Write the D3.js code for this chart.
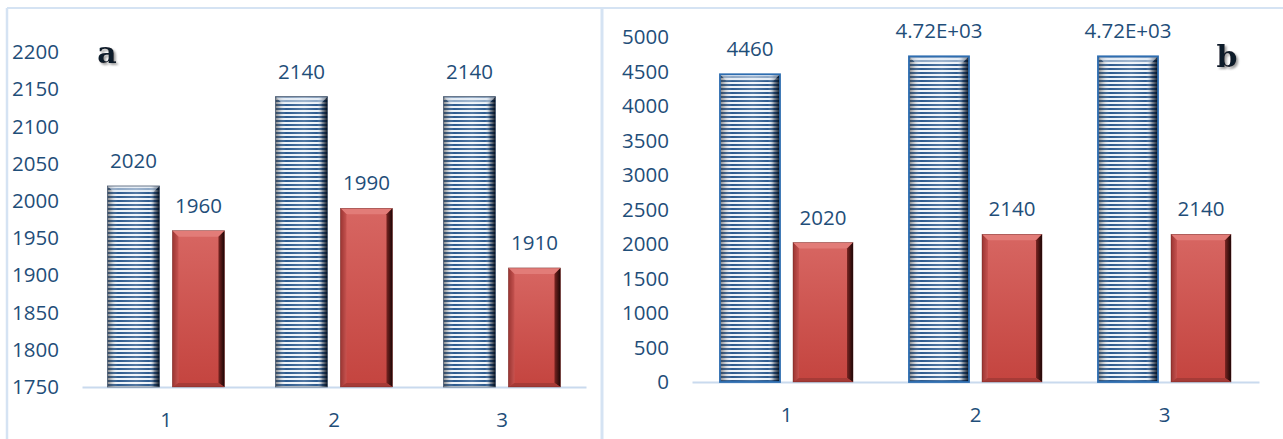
<!DOCTYPE html>
<html><head><meta charset="utf-8">
<script src="https://cdn.jsdelivr.net/npm/d3@7"></script>
<style>
html,body{margin:0;padding:0;background:#fff;}
svg text{font-family:"Open Sans","Noto Sans",sans-serif;}
</style></head>
<body>
<svg id="chart" width="1283" height="439"></svg>
<script>
// ---- data ----
const categories = ["1", "2", "3"];
const aBlue = [2020, 2140, 2140];
const aRed = [1960, 1990, 1910];
const aBlueLabels = ["2020", "2140", "2140"];
const aRedLabels = ["1960", "1990", "1910"];
const aTicks = [1750, 1800, 1850, 1900, 1950, 2000, 2050, 2100, 2150, 2200];
const bBlue = [4460, 4720, 4720];
const bRed = [2020, 2140, 2140];
const bBlueLabels = ["4460", "4.72E+03", "4.72E+03"];
const bRedLabels = ["2020", "2140", "2140"];
const bTicks = [0, 500, 1000, 1500, 2000, 2500, 3000, 3500, 4000, 4500, 5000];

const svg = d3.select("#chart");
const TXT = "#1F4E79";
const defs = svg.append("defs");

// stripes pattern for blue bars
const pat = defs.append("pattern").attr("id", "stripes").attr("patternUnits", "userSpaceOnUse")
  .attr("width", 8).attr("height", 4);
pat.append("rect").attr("width", 8).attr("height", 4).attr("fill", "#EEF3F9");
pat.append("rect").attr("y", 0).attr("width", 8).attr("height", 2).attr("fill", "#2D5A8E");

// horizontal shading for blue bars
const gb = defs.append("linearGradient").attr("id", "blueShade").attr("x1", 0).attr("x2", 1).attr("y1", 0).attr("y2", 0);
[[0, "#3a3a3a", 0.6], [0.08, "#606060", 0.3], [0.2, "#ffffff", 0.0], [0.55, "#ffffff", 0.18], [0.8, "#ffffff", 0.0], [0.9, "#0a1a30", 0.45], [1, "#000814", 0.95]]
  .forEach(([o, c, a]) => gb.append("stop").attr("offset", o).attr("stop-color", c).attr("stop-opacity", a));

// red bar vertical gradient
const gr = defs.append("linearGradient").attr("id", "redBase").attr("x1", 0).attr("x2", 0).attr("y1", 0).attr("y2", 1);
gr.append("stop").attr("offset", 0).attr("stop-color", "#D76662");
gr.append("stop").attr("offset", 1).attr("stop-color", "#C4443F");
const grr = defs.append("linearGradient").attr("id", "redRight").attr("x1", 0).attr("x2", 1).attr("y1", 0).attr("y2", 0);
grr.append("stop").attr("offset", 0).attr("stop-color", "#7a2522");
grr.append("stop").attr("offset", 1).attr("stop-color", "#1a0505");
const grl = defs.append("linearGradient").attr("id", "redLeft").attr("x1", 0).attr("x2", 1).attr("y1", 0).attr("y2", 0);
grl.append("stop").attr("offset", 0).attr("stop-color", "#9a3532");
grl.append("stop").attr("offset", 1).attr("stop-color", "#C65350");

// text shadow filter for panel letters
const f = defs.append("filter").attr("id", "shadow").attr("x", "-20%").attr("y", "-20%").attr("width", "160%").attr("height", "160%");
f.append("feDropShadow").attr("dx", 2).attr("dy", 2).attr("stdDeviation", 1.2).attr("flood-color", "#777").attr("flood-opacity", 0.7);

// panel frame lines
const frame = "#D5E3F3";
svg.append("line").attr("x1", 7).attr("x2", 1283).attr("y1", 8).attr("y2", 8).attr("stroke", frame).attr("stroke-width", 2);
svg.append("line").attr("x1", 7).attr("x2", 7).attr("y1", 8).attr("y2", 439).attr("stroke", frame).attr("stroke-width", 2.5);
svg.append("line").attr("x1", 602).attr("x2", 602).attr("y1", 8).attr("y2", 439).attr("stroke", frame).attr("stroke-width", 3);

function poly(pts) { return pts.map(p => p.join(",")).join(" "); }

function drawPanel(cfg) {
  const g = svg.append("g");
  const y = d3.scaleLinear().domain(cfg.domain).range([cfg.y0, cfg.y1]);
  const x0 = d3.scaleBand().domain(categories).range([cfg.x0, cfg.x1]).paddingInner(cfg.pi).paddingOuter(cfg.pi / 2);
  const x1 = d3.scaleBand().domain(["blue", "red"]).range([0, x0.bandwidth()]).paddingInner(cfg.pi2).paddingOuter(0);

  // y axis
  const ya = g.append("g").attr("transform", `translate(${cfg.x0},0)`)
    .call(d3.axisLeft(y).tickValues(cfg.ticks).tickSize(0).tickPadding(23).tickFormat(d3.format("d")));
  ya.select(".domain").remove();
  ya.selectAll("text").attr("fill", TXT).style("font-size", "20.5px");

  // x axis
  const xa = g.append("g").attr("transform", `translate(0,${cfg.y0})`)
    .call(d3.axisBottom(x0).tickSize(0).tickSizeOuter(0).tickPadding(25));
  xa.select(".domain").attr("stroke", "#C9DAEE").attr("stroke-width", 2);
  xa.selectAll("text").attr("fill", TXT).style("font-size", "20.5px");

  const b = 6;
  categories.forEach((c, i) => {
    // blue bar
    {
      const bx = x0(c) + x1("blue"), bw = x1.bandwidth();
      const top = y(cfg.blue[i]), h = cfg.y0 - top;
      g.append("rect").attr("x", bx).attr("y", top).attr("width", bw).attr("height", h).attr("fill", "url(#stripes)");
      g.append("rect").attr("x", bx).attr("y", top).attr("width", bw).attr("height", h).attr("fill", "url(#blueShade)");
      g.append("polygon").attr("points", poly([[bx, top], [bx + bw, top], [bx + bw - b, top + b], [bx + b, top + b]]))
        .attr("fill", "#dfe8f2").attr("opacity", 0.55);
      g.append("rect").attr("x", bx).attr("y", top).attr("width", bw).attr("height", h)
        .attr("fill", "none").attr("stroke", cfg.blueStroke).attr("stroke-width", cfg.blueStrokeW);
      g.append("text").attr("x", bx + bw / 2).attr("y", top - 18).attr("text-anchor", "middle")
        .attr("fill", TXT).style("font-size", "20.5px").text(cfg.blueLabels[i]);
    }
    // red bar
    {
      const rx = x0(c) + x1("red"), rw = x1.bandwidth();
      const top = y(cfg.red[i]), h = cfg.y0 - top, bot = cfg.y0;
      const bb = 4;
      g.append("rect").attr("x", rx).attr("y", top).attr("width", rw).attr("height", h).attr("fill", "url(#redBase)");
      g.append("polygon").attr("points", poly([[rx, top], [rx + rw, top], [rx + rw - b, top + b], [rx + b, top + b]])).attr("fill", "#E27C78");
      g.append("polygon").attr("points", poly([[rx, top], [rx + b, top + b], [rx + b, bot - bb], [rx, bot]])).attr("fill", "url(#redLeft)");
      g.append("polygon").attr("points", poly([[rx + rw, top], [rx + rw, bot], [rx + rw - b, bot - bb], [rx + rw - b, top + b]])).attr("fill", "url(#redRight)");
      g.append("polygon").attr("points", poly([[rx, bot], [rx + b, bot - bb], [rx + rw - b, bot - bb], [rx + rw, bot]])).attr("fill", "#A63B37");
      g.append("rect").attr("x", rx).attr("y", top).attr("width", rw).attr("height", h)
        .attr("fill", "none").attr("stroke", "#5a1c1a").attr("stroke-width", 0.6).attr("stroke-opacity", 0.6);
      g.append("text").attr("x", rx + rw / 2).attr("y", top - 18).attr("text-anchor", "middle")
        .attr("fill", TXT).style("font-size", "20.5px").text(cfg.redLabels[i]);
    }
  });

  g.append("text").attr("x", cfg.letterX).attr("y", cfg.letterY).attr("text-anchor", "middle")
    .attr("fill", "#111a2a").attr("filter", "url(#shadow)")
    .style("font-family", "'DejaVu Serif',serif").style("font-weight", "bold").style("font-size", "30px")
    .text(cfg.letter);
}

drawPanel({
  domain: [1750, 2200], y0: 387, y1: 52, x0: 82, x1: 586, pi: 0.304, pi2: 0.2,
  ticks: aTicks, blue: aBlue, red: aRed, blueLabels: aBlueLabels, redLabels: aRedLabels,
  blueStroke: "#4a5a70", blueStrokeW: 0.8, letter: "a", letterX: 107, letterY: 63
});
drawPanel({
  domain: [0, 5000], y0: 382, y1: 37, x0: 692, x1: 1259, pi: 0.296, pi2: 0.178,
  ticks: bTicks, blue: bBlue, red: bRed, blueLabels: bBlueLabels, redLabels: bRedLabels,
  blueStroke: "#2E6DB0", blueStrokeW: 1.8, letter: "b", letterX: 1227, letterY: 67
});
</script>
</body></html>
